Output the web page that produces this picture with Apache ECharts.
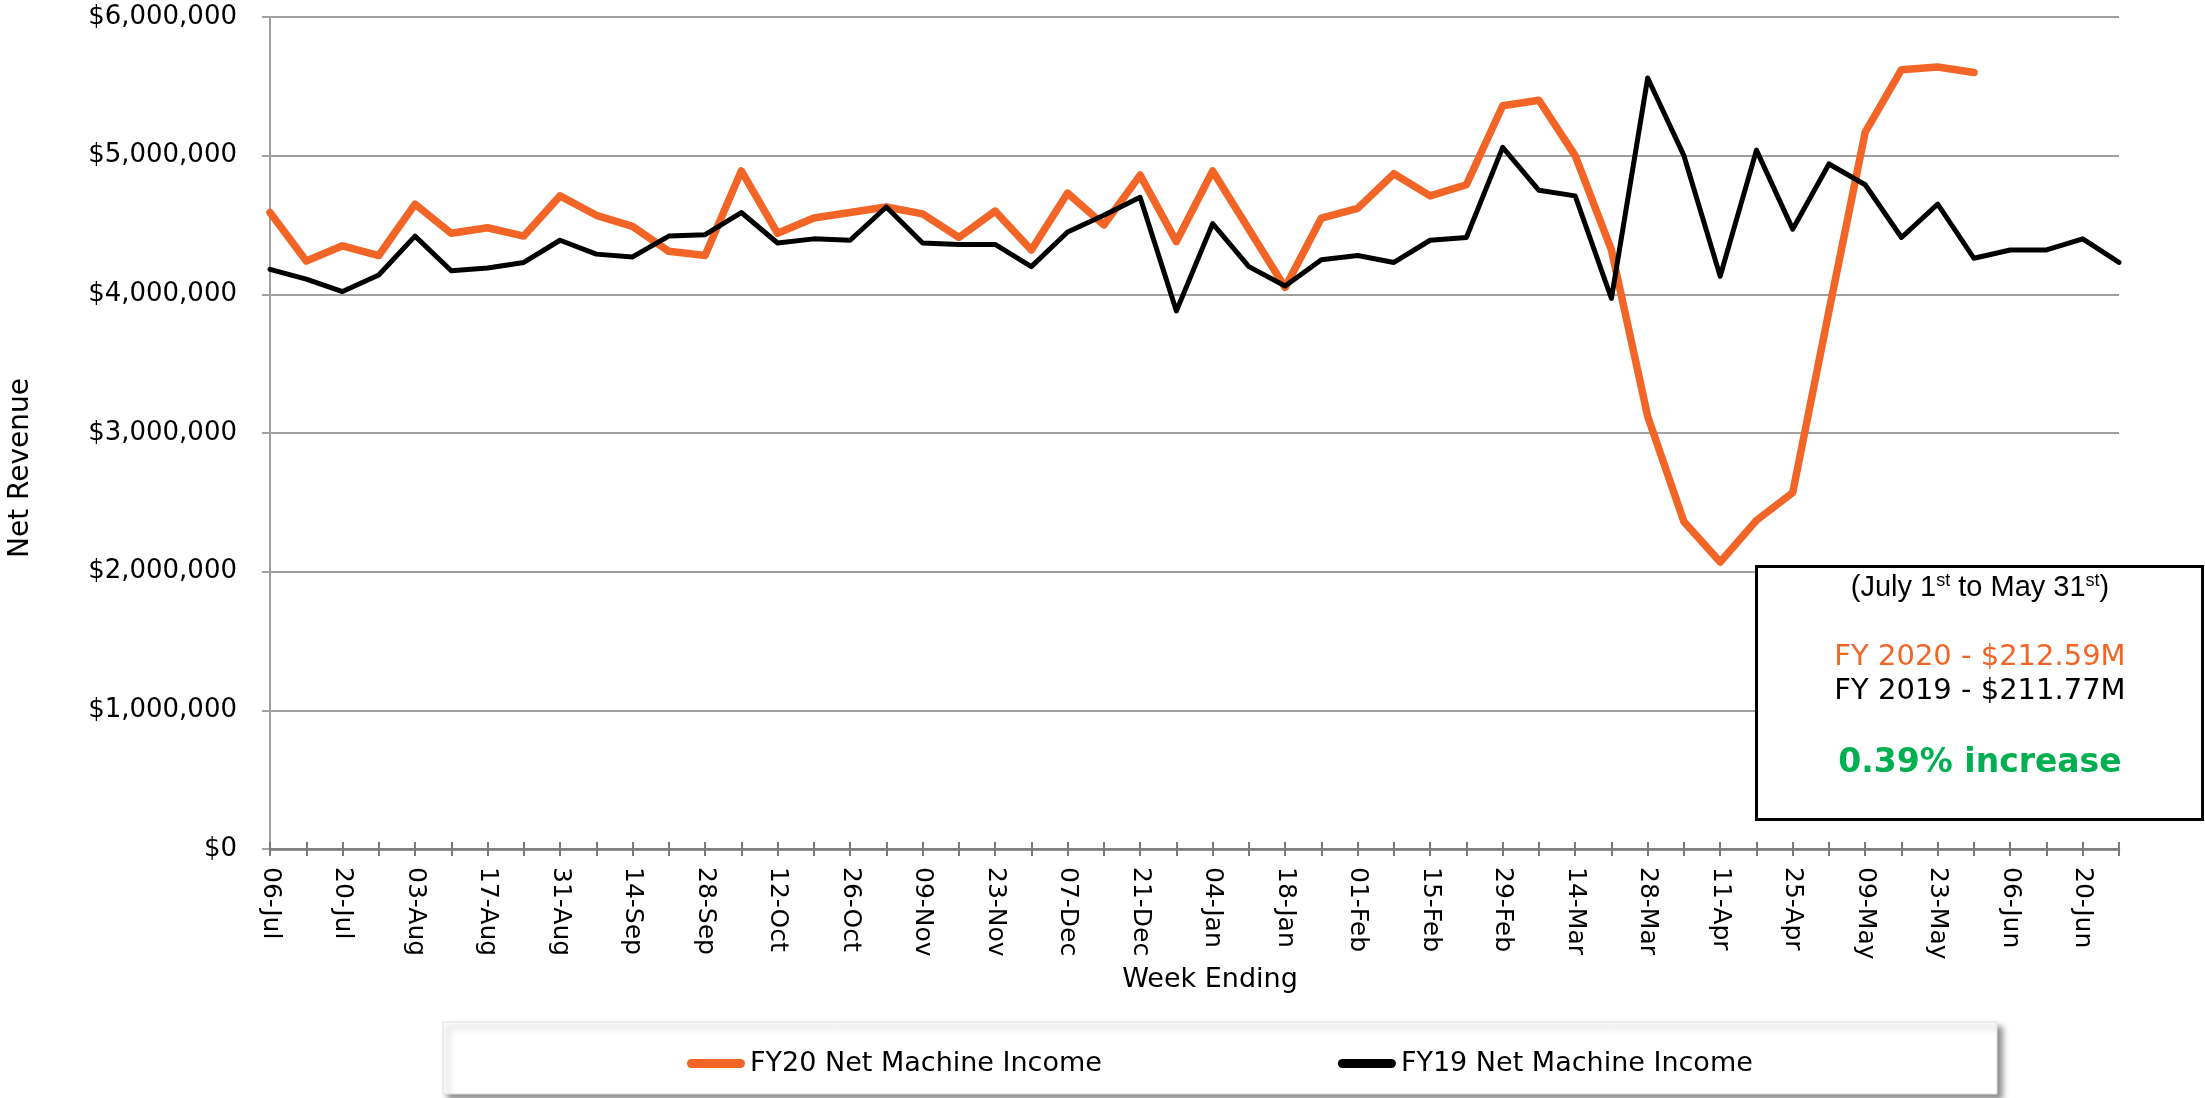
<!DOCTYPE html>
<html>
<head>
<meta charset="utf-8">
<script src="https://cdn.jsdelivr.net/npm/echarts@6/dist/echarts.min.js"></script>
<style>
  html, body { margin: 0; padding: 0; background: #fff; }
  #chart { width: 2205px; height: 1098px; }
</style>
</head>
<body>
<div id="chart"></div>
<script>
const categories = [
  '06-Jul','13-Jul','20-Jul','27-Jul','03-Aug','10-Aug','17-Aug','24-Aug','31-Aug','07-Sep',
  '14-Sep','21-Sep','28-Sep','05-Oct','12-Oct','19-Oct','26-Oct','02-Nov','09-Nov','16-Nov',
  '23-Nov','30-Nov','07-Dec','14-Dec','21-Dec','28-Dec','04-Jan','11-Jan','18-Jan','25-Jan',
  '01-Feb','08-Feb','15-Feb','22-Feb','29-Feb','07-Mar','14-Mar','21-Mar','28-Mar','04-Apr',
  '11-Apr','18-Apr','25-Apr','02-May','09-May','16-May','23-May','30-May','06-Jun','13-Jun',
  '20-Jun','27-Jun'
];

const fy20Income = [
  4590000, 4240000, 4350000, 4280000, 4650000, 4440000, 4480000, 4420000, 4710000, 4570000,
  4490000, 4310000, 4280000, 4890000, 4440000, 4550000, 4590000, 4630000, 4580000, 4410000,
  4600000, 4320000, 4730000, 4500000, 4860000, 4380000, 4890000, 4470000, 4050000, 4550000,
  4620000, 4870000, 4710000, 4790000, 5360000, 5400000, 5000000, 4320000, 3120000, 2360000,
  2070000, 2370000, 2570000, 3880000, 5170000, 5620000, 5640000, 5600000, null, null,
  null, null
];

const fy19Income = [
  4180000, 4110000, 4020000, 4140000, 4420000, 4170000, 4190000, 4230000, 4390000, 4290000,
  4270000, 4420000, 4430000, 4590000, 4370000, 4400000, 4390000, 4630000, 4370000, 4360000,
  4360000, 4200000, 4450000, 4570000, 4700000, 3880000, 4510000, 4200000, 4060000, 4250000,
  4280000, 4230000, 4390000, 4410000, 5060000, 4750000, 4710000, 3970000, 5560000, 5000000,
  4130000, 5040000, 4470000, 4940000, 4790000, 4410000, 4650000, 4260000, 4320000, 4320000,
  4400000, 4230000
];

const seriesNames = ['FY20 Net Machine Income', 'FY19 Net Machine Income'];
const yMin = 0, yMax = 6000000, yStep = 1000000;

const ORANGE = '#f26526';
const BLACK = '#000000';
const GREEN = '#00b050';

function money(v) {
  return '$' + String(Math.round(v)).replace(/\B(?=(\d{3})+(?!\d))/g, ',');
}

const chart = echarts.init(document.getElementById('chart'), null, { renderer: 'canvas' });

const option = {
  animation: false,
  backgroundColor: '#ffffff',
  grid: {
    left: 270, right: 86, top: 17, bottom: 249,
    containLabel: false,
    outerBoundsMode: 'none'
  },
  xAxis: [
    {
      type: 'category',
      data: categories,
      boundaryGap: false,
      position: 'bottom',
      axisLine: { show: true, lineStyle: { color: '#7a7a7a', width: 2.5 } },
      axisTick: { show: true, interval: 0, length: 7, lineStyle: { color: '#7a7a7a', width: 2 } },
      axisLabel: {
        interval: 1, rotate: -90, margin: 18, color: '#000',
        fontFamily: 'DejaVu Sans', fontSize: 25
      },
      splitLine: { show: false }
    },
    {
      type: 'category',
      data: categories,
      boundaryGap: false,
      position: 'bottom',
      axisLine: { show: false },
      axisTick: { show: true, inside: true, interval: 0, length: 7, lineStyle: { color: '#7a7a7a', width: 2 } },
      axisLabel: { show: false },
      splitLine: { show: false }
    }
  ],
  yAxis: {
    type: 'value',
    min: yMin, max: yMax, interval: yStep,
    axisLine: { show: true, lineStyle: { color: '#a0a0a0', width: 2 } },
    axisTick: { show: true, length: 8, lineStyle: { color: '#a0a0a0', width: 2 } },
    axisLabel: {
      margin: 33, color: '#000', fontFamily: 'DejaVu Sans', fontSize: 26,
      formatter: money
    },
    splitLine: { show: true, lineStyle: { color: '#a0a0a0', width: 2 } }
  },
  legend: {
    data: seriesNames,
    left: 682, top: 1045,
    itemWidth: 58, itemHeight: 9,
    itemGap: 236,
    icon: 'path://M4.5,0 L53.5,0 A4.5,4.5 0 0 1 53.5,9 L4.5,9 A4.5,4.5 0 0 1 4.5,0 Z',
    textStyle: { color: '#000', fontFamily: 'DejaVu Sans', fontSize: 27 },
    z: 5
  },
  series: [
    {
      name: seriesNames[0],
      type: 'line',
      data: fy20Income,
      xAxisIndex: 0,
      symbol: 'none',
      connectNulls: false,
      itemStyle: { color: ORANGE },
      lineStyle: { color: ORANGE, width: 7.5, cap: 'round', join: 'round' },
      z: 3
    },
    {
      name: seriesNames[1],
      type: 'line',
      data: fy19Income,
      xAxisIndex: 0,
      symbol: 'none',
      itemStyle: { color: BLACK },
      lineStyle: { color: BLACK, width: 5, cap: 'round', join: 'round' },
      z: 3
    }
  ],
  graphic: [
    {
      type: 'rect', z: 1,
      shape: { x: 443, y: 1022, width: 1554, height: 72 },
      style: {
        fill: '#fff', stroke: '#e0e0e0', lineWidth: 1,
        shadowBlur: 6, shadowOffsetX: 5, shadowOffsetY: 5, shadowColor: 'rgba(0,0,0,0.45)'
      }
    },
    {
      type: 'text', z: 10,
      x: 21, y: 468, rotation: Math.PI / 2,
      style: {
        text: 'Net Revenue', fill: '#000',
        font: '28px "DejaVu Sans"', textAlign: 'center', textVerticalAlign: 'middle'
      }
    },
    {
      type: 'text', z: 10,
      x: 1210, y: 980,
      style: {
        text: 'Week Ending', fill: '#000',
        font: '27px "DejaVu Sans"', textAlign: 'center', textVerticalAlign: 'middle'
      }
    },
    {
      type: 'rect', z: 20,
      shape: { x: 1756.5, y: 566.5, width: 446, height: 253 },
      style: { fill: '#fff', stroke: '#000', lineWidth: 3 }
    },
    {
      type: 'text', z: 21,
      x: 1980, y: 588,
      style: {
        text: '{n|(July 1}{s|st}{n| to May 31}{s|st}{n|)}',
        textAlign: 'center', textVerticalAlign: 'middle',
        rich: {
          n: { fontFamily: 'Liberation Sans', fontSize: 29, color: '#000', lineHeight: 34, verticalAlign: 'middle' },
          s: { fontFamily: 'Liberation Sans', fontSize: 18, color: '#000', lineHeight: 34, verticalAlign: 'middle', padding: [0, 0, 14, 0] }
        }
      }
    },
    {
      type: 'text', z: 21,
      x: 1980, y: 657,
      style: {
        text: 'FY 2020 - $212.59M', fill: ORANGE,
        font: '29px "DejaVu Sans"', textAlign: 'center', textVerticalAlign: 'middle'
      }
    },
    {
      type: 'text', z: 21,
      x: 1980, y: 691,
      style: {
        text: 'FY 2019 - $211.77M', fill: '#000',
        font: '29px "DejaVu Sans"', textAlign: 'center', textVerticalAlign: 'middle'
      }
    },
    {
      type: 'text', z: 21,
      x: 1980, y: 763,
      style: {
        text: '0.39% increase', fill: GREEN,
        font: 'bold 33px "DejaVu Sans"', textAlign: 'center', textVerticalAlign: 'middle'
      }
    }
  ]
};

chart.setOption(option);
</script>
</body>
</html>
